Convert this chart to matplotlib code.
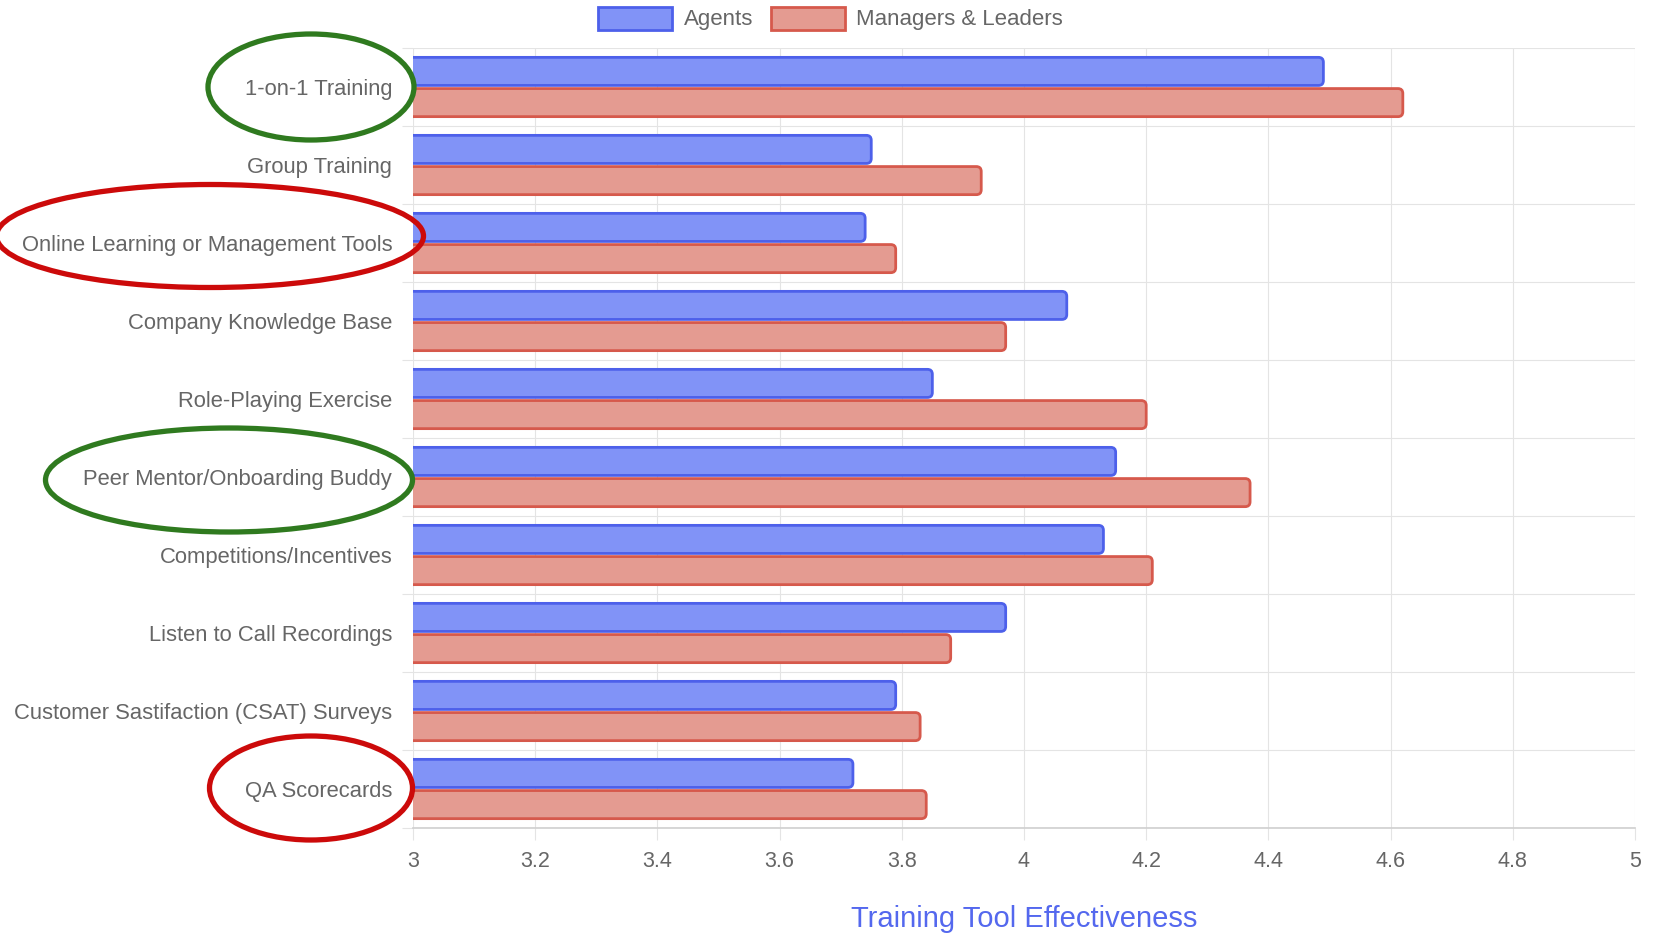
import numpy as np
import matplotlib.pyplot as plt
from matplotlib.patches import Ellipse, Rectangle, FancyBboxPatch

plt.rcParams['font.family'] = ['Liberation Sans', 'DejaVu Sans']

# 数据
tools = ['1-on-1 Training', 'Group Training', 'Online Learning or Management Tools',
         'Company Knowledge Base', 'Role-Playing Exercise', 'Peer Mentor/Onboarding Buddy',
         'Competitions/Incentives', 'Listen to Call Recordings',
         'Customer Sastifaction (CSAT) Surveys', 'QA Scorecards']
agents = [4.49, 3.75, 3.74, 4.07, 3.85, 4.15, 4.13, 3.97, 3.79, 3.72]
managers = [4.62, 3.93, 3.79, 3.97, 4.20, 4.37, 4.21, 3.88, 3.83, 3.84]
x_ticks = [3, 3.2, 3.4, 3.6, 3.8, 4, 4.2, 4.4, 4.6, 4.8, 5]
x_tick_labels = ['3', '3.2', '3.4', '3.6', '3.8', '4', '4.2', '4.4', '4.6', '4.8', '5']

blue_fill, blue_edge = '#8193f7', '#4d60ea'
red_fill, red_edge = '#e49b91', '#d6594c'
grid_c = '#e4e4e4'
text_c = '#666666'

W, H = 1657, 934
fig = plt.figure(figsize=(W / 100, H / 100), dpi=100)
ax = fig.add_axes([413 / W, 1 - 828 / H, 1222 / W, 780 / H])

y = np.arange(len(tools))
h = 0.36
left = 3
ax.set_xlim(3, 5)
ax.set_ylim(len(tools) - 0.5, -0.5)

# 圆角横条：左端伸出坐标轴外被裁掉，只留右侧圆角
aspect = (780 / 10) ** -1 / (1222 / 2) ** -1
for vals, off, fc, ec in [(agents, -0.2, blue_fill, blue_edge),
                          (managers, 0.2, red_fill, red_edge)]:
    for yi, v in zip(y, vals):
        p = FancyBboxPatch((left - 0.02, yi + off - h / 2), v - left + 0.02, h,
                           boxstyle='round,pad=0,rounding_size=0.008',
                           mutation_aspect=aspect, facecolor=fc, edgecolor=ec,
                           linewidth=2, zorder=3)
        ax.add_patch(p)

ax.set_xticks(x_ticks)
ax.set_xticklabels(x_tick_labels)
ax.set_yticks(y)
ax.set_yticklabels(tools)
ax.set_yticks(np.arange(-0.5, len(tools)), minor=True)

ax.tick_params(axis='x', length=8.5, width=0.8, color=grid_c, labelsize=15.5,
               labelcolor=text_c, pad=8)
ax.tick_params(axis='y', which='major', length=0, labelsize=15.8, labelcolor=text_c, pad=15)
ax.tick_params(axis='y', which='minor', length=8, width=0.8, color=grid_c)

ax.grid(axis='x', color=grid_c, linewidth=0.8, zorder=0)
ax.grid(axis='y', which='minor', color=grid_c, linewidth=0.8, zorder=0)
for s in ['top', 'right', 'left']:
    ax.spines[s].set_visible(False)
ax.spines['bottom'].set_color('#cfcfcf')
ax.spines['bottom'].set_linewidth(1.2)

fig.text(1024 / W, 1 - 919 / H, 'Training Tool Effectiveness', ha='center', va='center',
         fontsize=21, color='#5468ee')

# 图例
for bx, tx, fc, ec, lab in [(598, 684, blue_fill, blue_edge, 'Agents'),
                            (771, 856, red_fill, red_edge, 'Managers & Leaders')]:
    fig.patches.append(Rectangle((bx / W, 1 - 30 / H), 74 / W, 23 / H,
                                 transform=fig.transFigure, facecolor=fc,
                                 edgecolor=ec, linewidth=2))
    fig.text(tx / W, 1 - 20 / H, lab, ha='left', va='center', fontsize=16, color=text_c)

# 圈出重点项目
circles = [(311, 87, 206, 106, '#2f7a1f'),
           (210, 236, 427, 103, '#cc0a0a'),
           (229, 480, 367, 104, '#2f7a1f'),
           (311, 788, 203, 104, '#cc0a0a')]
for cx, cy, ew, eh, col in circles:
    fig.patches.append(Ellipse((cx / W, 1 - cy / H), ew / W, eh / H,
                               transform=fig.transFigure, fill=False,
                               edgecolor=col, linewidth=3.8))

fig.savefig('out.png', dpi=100)
